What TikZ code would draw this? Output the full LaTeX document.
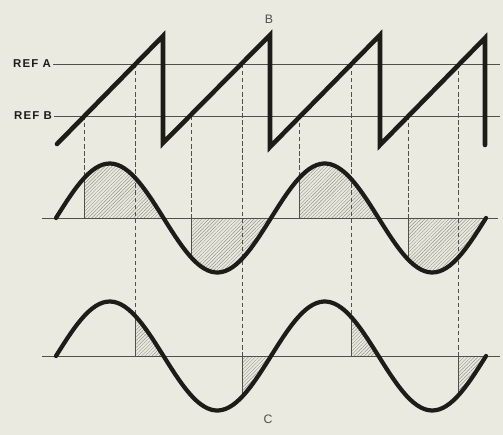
\documentclass[tikz,border=0pt]{standalone}
\usepackage{fontspec}
\newfontfamily\lblfont{Liberation Sans}[LetterSpace=10]
\usepackage{xcolor}
\usetikzlibrary{patterns.meta}
\definecolor{paper}{RGB}{234,234,224}
\definecolor{ink}{RGB}{28,28,24}
\definecolor{guidegray}{RGB}{80,80,72}
\definecolor{hatchgray}{RGB}{145,145,135}

% sine used by both lower traces (period 215)
\pgfmathdeclarefunction{wv}{1}{\pgfmathparse{54.5*sin((#1-56)*1.674419)}}

\begin{document}
\begin{tikzpicture}[x=0.02cm, y=-0.02cm,
  wave/.style={ink, line width=2.4pt, line cap=round, line join=round},
  saw/.style={ink, line width=2.6pt, line cap=round, line join=miter},
  refline/.style={guidegray, line width=0.5pt},
  guide/.style={guidegray, line width=0.4pt, dash pattern=on 2.5pt off 1.5pt},
  rim/.style={guidegray, line width=0.4pt},
  hatch/.style={pattern={Lines[angle=45,distance=1.4pt,line width=0.25pt]}, pattern color=hatchgray},
  lbl/.style={font=\lblfont\bfseries\fontsize{6.5}{7}\selectfont, text=ink, inner sep=1pt},
  tag/.style={font=\lblfont\fontsize{7}{8}\selectfont, text=guidegray}
]
\fill[paper] (0,0) rectangle (503,435);
\useasboundingbox (0,0) rectangle (503,435);

% hatched areas, upper sine
\foreach \a/\z in {84.5/163.5, 191.5/271, 299.5/378.5, 408/486} {
  \fill[hatch] (\a,218) -- plot[domain=\a:\z, samples=30] (\x,{218-wv(\x)}) -- (\z,218) -- cycle;
  \draw[rim] (\a,218) -- (\a,{218-wv(\a)});
}
% hatched areas, lower sine
\foreach \a/\z in {135.5/163.5, 242.5/271, 351.7/378.5, 458/486} {
  \fill[hatch] (\a,356) -- plot[domain=\a:\z, samples=20] (\x,{356-wv(\x)}) -- (\z,356) -- cycle;
  \draw[rim] (\a,356) -- (\a,{356-wv(\a)});
}

% dashed drop lines
\foreach \a in {84.5,191.5,299.5,408}
  \draw[guide] (\a,116) -- (\a,218);
\foreach \a in {135.5,242.5,351.7,458}
  \draw[guide] (\a,64) -- (\a,356);

% reference levels
\node[lbl, anchor=east] (refa) at (53,64) {REF A};
\node[lbl, anchor=east] (refb) at (54,116) {REF B};
\coordinate (refaend) at (500,64);
\coordinate (refbend) at (500,116);
\draw[refline] (refa.east) -- (refaend);
\draw[refline] (refb.east) -- (refbend);

% zero axes
\coordinate (axa) at (42,218);
\coordinate (axaend) at (498,218);
\coordinate (axb) at (42,356);
\coordinate (axbend) at (500,356);
\draw[refline] (axa) -- (axaend);
\draw[refline] (axb) -- (axbend);

% traces
\draw[saw] (57,144) -- (163,36) -- (163,143) -- (270,35) -- (270,147)
  -- (380,35) -- (380,145) -- (485,38) -- (485,145);
\draw[wave] plot[domain=56:486, samples=120] (\x,{218-wv(\x)});
\draw[wave] plot[domain=56:486, samples=120] (\x,{356-wv(\x)});

\node[tag] (lblb) at (269,19) {B};
\node[tag] (lblc) at (268,419) {C};
\end{tikzpicture}
\end{document}
